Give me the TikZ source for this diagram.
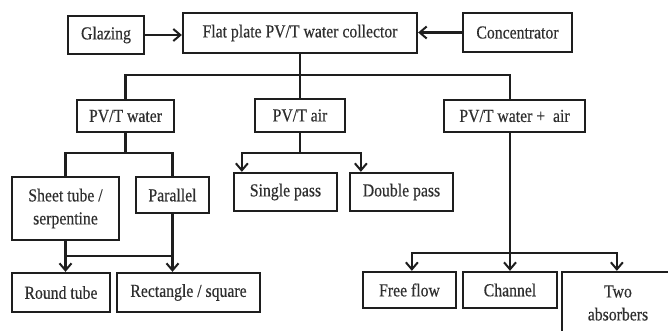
\documentclass[tikz,border=0pt]{standalone}
\usepackage{fontspec}
\setmainfont[FakeStretch=0.86,FakeBold=0.4]{Liberation Serif}
\usetikzlibrary{arrows.meta,calc}
\definecolor{ink}{HTML}{1E1E1E}
\definecolor{txt}{HTML}{2E2E2E}
\tikzset{
  box/.style={draw=ink, line width=2.3pt, rectangle, inner sep=0pt, align=center,
              text=txt, font=\fontsize{18.3}{23}\selectfont},
  link/.style={draw=ink, line width=2.3pt},
  arrowlink/.style={link, -{Straight Barb[length=7pt,width=12pt,line width=2pt]}},
}
\begin{document}
\begin{tikzpicture}[x=1pt,y=-1pt]
\useasboundingbox (0,0) rectangle (668,331);
\clip (0,0) rectangle (668,331);

% top row
\node[box, minimum width=76pt,  minimum height=38pt] (glaz) at (106,35)   {Glazing};
\node[box, minimum width=234pt, minimum height=40pt] (main) at (300,33)   {Flat plate PV/T water collector};
\node[box, minimum width=109pt, minimum height=39pt] (conc) at (517.5,32.5) {Concentrator};

% collector types
\node[box, minimum width=97pt,  minimum height=32pt] (pvw)  at (125.5,116) {PV/T water};
\node[box, minimum width=90pt,  minimum height=33pt] (pva)  at (300,115.5) {PV/T air};
\node[box, minimum width=141pt, minimum height=32pt] (pvwa) at (514.5,116) {PV/T water +\ \ air};

% water branch
\node[box, minimum width=107pt, minimum height=63pt] (sheet) at (65.5,208.5) {Sheet tube /\\serpentine};
\node[box, minimum width=73pt,  minimum height=36pt] (par)   at (172.5,195)  {Parallel};
\node[box, minimum width=98pt,  minimum height=39pt] (round) at (61,292.5)   {Round tube};
\node[box, minimum width=143pt, minimum height=39pt] (rect)  at (188.5,292.5) {Rectangle / square};

% air branch
\node[box, minimum width=103pt, minimum height=38pt] (single) at (285.5,192) {Single pass};
\node[box, minimum width=103pt, minimum height=38pt] (double) at (401.5,192) {Double pass};

% water + air branch
\node[box, minimum width=93pt,  minimum height=36pt] (free) at (409.5,290) {Free flow};
\node[box, minimum width=94pt,  minimum height=36pt] (chan) at (510,290)   {Channel};
\node[box, minimum width=112pt, minimum height=62pt] (two)  at (618,303)   {Two\\absorbers};

% bus lines
\coordinate (busA) at (0,75);
\coordinate (busB) at (0,153);
\coordinate (busC) at (0,256);
\coordinate (busD) at (0,253);
\coordinate (singleTip) at ($(single.north west)+(9,0)$);
\coordinate (doubleTip) at ($(double.north west)+(12,0)$);
\coordinate (freeTip)   at ($(free.north west)+(50,0)$);
\coordinate (twoTip)    at ($(two.north west)+(56,0)$);

% inputs to the collector
\draw[arrowlink] (glaz.east) -- (main.west |- glaz.east);
\draw[arrowlink] (conc.west) -- (main.east |- conc.west);

% collector to its types
\draw[link] (main.south) -- (main.south |- busA);
\draw[link] (pvw.north) -- (pvw.north |- busA) -- (chan.north |- busA) -- (chan.north |- pvwa.north);
\draw[link] (pva.north) -- (pva.north |- busA);

% PV/T water
\draw[link] (pvw.south) -- (pvw.south |- busB);
\draw[link] (sheet.north) |- (par.north |- busB) -- (par.north);
\draw[arrowlink] (sheet.south) -- (sheet.south |- round.north);
\draw[arrowlink] (par.south) -- (par.south |- rect.north);
\draw[link] (sheet.south |- busC) -- (par.south |- busC);

% PV/T air
\draw[link] (pva.south) -- (pva.south |- busB);
\draw[arrowlink] (pva.south |- busB) -| (singleTip);
\draw[arrowlink] (pva.south |- busB) -| (doubleTip);

% PV/T water + air
\draw[arrowlink] (chan.north |- pvwa.south) -- (chan.north);
\draw[arrowlink] (chan.north |- busD) -| (freeTip);
\draw[arrowlink] (chan.north |- busD) -| (twoTip);
\end{tikzpicture}
\end{document}
